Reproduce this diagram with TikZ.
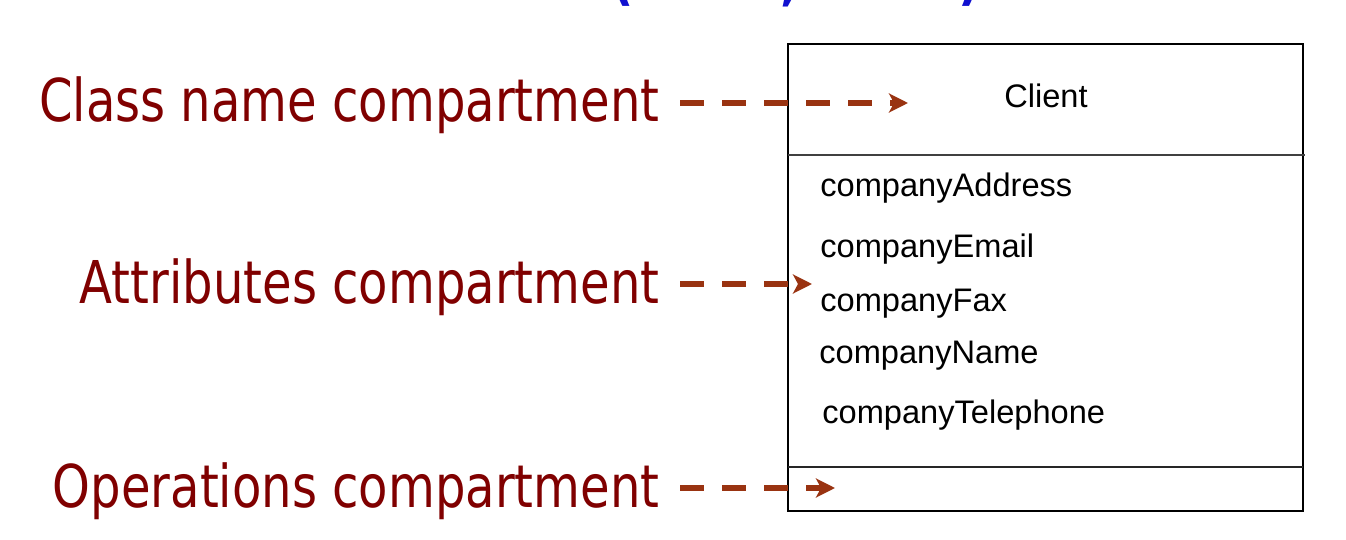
\documentclass[tikz,border=0pt]{standalone}
\usepackage{fontspec}
\setsansfont{Liberation Sans}
\newfontfamily\lblfont[FakeStretch=0.815]{DejaVu Sans}
\usetikzlibrary{arrows.meta}
\definecolor{lblred}{RGB}{128,0,0}
\definecolor{arrrust}{RGB}{153,51,17}
\definecolor{ttlblue}{RGB}{16,16,208}
\begin{document}
\begin{tikzpicture}[x=0.5pt,y=-0.5pt,
  lbl/.style={inner sep=0pt,anchor=base east,text=lblred,font=\lblfont\fontsize{29.5pt}{34pt}\selectfont},
  attr/.style={inner sep=0pt,anchor=base west,font=\sffamily\fontsize{16.3pt}{19pt}\selectfont},
  pointer/.style={arrrust,line width=3pt,dash pattern=on 12pt off 9pt,-{Stealth[length=9.5pt,width=9.5pt,inset=2.5pt]}}]
\useasboundingbox (0,0) rectangle (1346,540);
\foreach \x/\c in {623/(,790/{,},970/)} \node[inner sep=0pt,anchor=base,text=ttlblue,font=\lblfont\bfseries\fontsize{30pt}{34pt}\selectfont] at (\x,-1) {\c};
\draw[line width=0.6pt] (788,44) rectangle (1303,511);
\draw[line width=0.6pt,black!75] (788,155) -- (1305,155); \draw[line width=0.6pt,black!85] (788,467) -- (1303,467);
\node[attr,anchor=base] (cname) at (1046,108) {Client};
\node[attr] (addr) at (820,197) {companyAddress}; \node[attr] (email) at (820,257) {companyEmail};
\node[attr] (fax) at (820,312) {companyFax}; \node[attr] (name) at (819,364) {companyName};
\node[attr] (tel) at (822,423) {companyTelephone};
\node[lbl] (lclass) at (660,122) {Class name compartment}; \node[lbl] (lattr) at (660,303) {Attributes compartment};
\node[lbl] (lops) at (660,507) {Operations compartment};
\coordinate (tclass) at (908,103); \coordinate (tattr) at (812,284); \coordinate (tops) at (835,488);
\draw[pointer] (lclass.east |- tclass) ++(20,0) -- (tclass); \draw[pointer] (lattr.east |- tattr) ++(20,0) -- (tattr);
\draw[pointer] (lops.east |- tops) ++(20,0) -- (tops);
\end{tikzpicture}
\end{document}
